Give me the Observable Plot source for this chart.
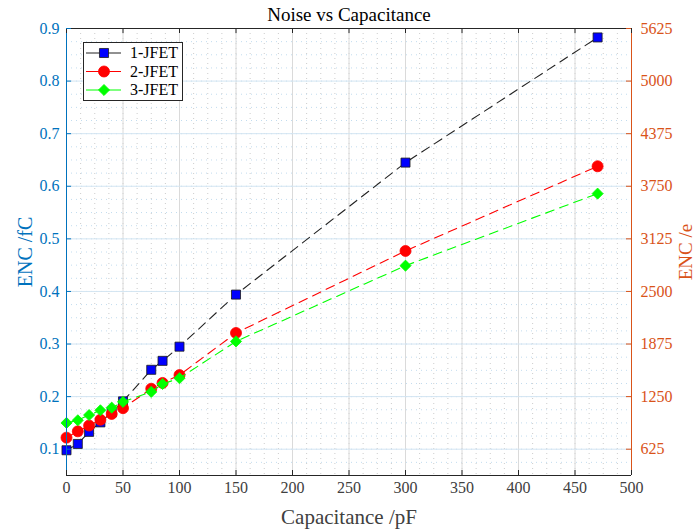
<!DOCTYPE html>
<html><head><meta charset="utf-8">
<script src="https://cdn.jsdelivr.net/npm/d3@7"></script>
<script src="https://cdn.jsdelivr.net/npm/@observablehq/plot@0.6"></script>
<style>
body{margin:0;background:#fff;}
#wrap{position:relative;width:697px;height:532px;font-family:"Liberation Serif","Times New Roman",serif;}
#legend{position:absolute;left:83px;top:42px;}
</style></head><body><div id="wrap"><div id="chart"></div><div id="legend"></div></div>
<script>
// ---- data ----
const capacitance = [0, 10, 20, 30, 40, 50, 75, 85, 100, 150, 300, 470];
const jfet1 = [0.098, 0.110, 0.133, 0.151, 0.170, 0.191, 0.251, 0.268, 0.295, 0.394, 0.645, 0.883];
const jfet2 = [0.122, 0.134, 0.145, 0.156, 0.167, 0.178, 0.215, 0.226, 0.241, 0.321, 0.477, 0.638];
const jfet3 = [0.150, 0.155, 0.165, 0.174, 0.179, 0.190, 0.209, 0.224, 0.235, 0.305, 0.449, 0.586];
const seriesNames = ["1-JFET", "2-JFET", "3-JFET"];
const xTicks = [0, 50, 100, 150, 200, 250, 300, 350, 400, 450, 500];
const yTicks = [0.1, 0.2, 0.3, 0.4, 0.5, 0.6, 0.7, 0.8, 0.9];
const leftTickLabels = ["0.1", "0.2", "0.3", "0.4", "0.5", "0.6", "0.7", "0.8", "0.9"];
const rightTickLabels = ["625", "1250", "1875", "2500", "3125", "3750", "4375", "5000", "5625"];
const xDomain = [0, 500];
const yDomain = [0.05, 0.9];
const titleText = "Noise vs Capacitance";
const xLabel = "Capacitance /pF";
const yLabelLeft = "ENC /fC";
const yLabelRight = "ENC /e";

// ---- styles ----
const W = 697, H = 532, mL = 66, mR = 66, mT = 28, mB = 57;
const fw = W - mL - mR, fh = H - mT - mB;
const cBlue = "#0072BD", cOrange = "#D95319", cAxis = "#262626";
const styles = [
  {line: "#222222", fill: "#0000ff", stroke: "#1a1a1a", symbol: "square", r: 5.1},
  {line: "#ff0000", fill: "#ff0000", stroke: "#ff0000", symbol: "circle", r: 5.5},
  {line: "#00ff00", fill: "#00ff00", stroke: "#00ff00", symbol: "diamond2", r: 5.0}
];
const allSeries = [jfet1, jfet2, jfet3];
const rows = allSeries.map(vals => capacitance.map((c, i) => ({x: c, y: vals[i]})));
const labelFor = (ticks, labels) => d => labels[ticks.findIndex(t => Math.abs(t - d) < 1e-9)];

const xMinor = d3.range(xDomain[0], xDomain[1] + 0.001, 12.5);
const yMinor = d3.range(0.05, 0.9001, 0.025);

const seriesMarks = [];
rows.forEach((r, i) => {
  const s = styles[i];
  seriesMarks.push(Plot.line(r, {x: "x", y: "y", stroke: s.line, strokeWidth: 1.1, strokeDasharray: "9,6"}));
  seriesMarks.push(Plot.dot(r, {x: "x", y: "y", symbol: () => s.symbol, r: s.r, fill: s.fill, stroke: s.stroke, strokeWidth: 0.8}));
});

const chart = Plot.plot({
  width: W, height: H,
  marginLeft: mL, marginRight: mR, marginTop: mT, marginBottom: mB,
  x: {domain: xDomain},
  y: {domain: yDomain},
  symbol: {type: "identity"},
  style: {fontFamily: '"Liberation Serif","Times New Roman",serif', background: "#fff", overflow: "visible"},
  marks: [
    Plot.ruleX(xMinor, {x: d => d, stroke: "#cccccc", strokeDasharray: "1,4"}),
    Plot.ruleY(yMinor, {y: d => d, stroke: "#c2dcef", strokeDasharray: "1,4"}),
    Plot.ruleX(xTicks, {x: d => d, stroke: "#dadada"}),
    Plot.ruleY(yTicks, {y: d => d, stroke: "#d3e5f2"}),
    ...seriesMarks,
    // box
    Plot.ruleY([yDomain[0]], {y: d => d, stroke: cAxis}),
    Plot.ruleY([yDomain[1]], {y: d => d, stroke: cAxis}),
    Plot.ruleX([xDomain[0]], {x: d => d, stroke: cBlue}),
    Plot.ruleX([xDomain[1]], {x: d => d, stroke: cOrange}),
    // inward ticks
    Plot.tickX(xTicks, {x: d => d, insetTop: fh - 5, stroke: cAxis}),
    Plot.tickX(xTicks, {x: d => d, insetBottom: fh - 5, stroke: cAxis}),
    Plot.tickY(yTicks, {y: d => d, insetRight: fw - 5, stroke: cBlue}),
    Plot.tickY(yTicks, {y: d => d, insetLeft: fw - 5, stroke: cOrange}),
    // tick labels
    Plot.axisX(xTicks, {anchor: "bottom", tickSize: 0, tickPadding: 6, fontSize: 16, color: "#404040", label: null}),
    Plot.axisY(yTicks, {anchor: "left", tickSize: 0, tickPadding: 7, fontSize: 16, color: cBlue, label: null,
      tickFormat: labelFor(yTicks, leftTickLabels)}),
    Plot.axisY(yTicks, {anchor: "right", tickSize: 0, tickPadding: 9, fontSize: 16, color: cOrange, label: null,
      tickFormat: labelFor(yTicks, rightTickLabels)}),
    // titles
    Plot.text([titleText], {text: d => d, frameAnchor: "top", lineAnchor: "middle", dy: -14, fontSize: 19, fill: "#000"}),
    Plot.text([xLabel], {text: d => d, frameAnchor: "bottom", lineAnchor: "middle", textAnchor: "middle", dy: 42, fontSize: 21, fill: "#404040"}),
    Plot.text([yLabelLeft], {text: d => d, frameAnchor: "left", lineAnchor: "middle", textAnchor: "middle", dx: -41, rotate: -90, fontSize: 20, fill: cBlue}),
    Plot.text([yLabelRight], {text: d => d, frameAnchor: "right", lineAnchor: "middle", textAnchor: "middle", dx: 54, rotate: -90, fontSize: 19, fill: cOrange})
  ]
});
document.getElementById("chart").appendChild(chart);

// ---- legend ----
const lw = 99, lh = 58;
const ys = [11, 29.5, 48];
let svg = `<svg width="${lw + 2}" height="${lh + 2}" xmlns="http://www.w3.org/2000/svg" style="font-family:'Liberation Serif','Times New Roman',serif">`;
svg += `<rect x="0.5" y="0.5" width="${lw}" height="${lh}" fill="#fff" stroke="#262626" stroke-width="1"/>`;
seriesNames.forEach((name, i) => {
  const s = styles[i], y = ys[i];
  svg += `<line x1="3" x2="38" y1="${y}" y2="${y}" stroke="${s.line}" stroke-width="1"/>`;
  const sym = d3.symbol(s.symbol === "square" ? d3.symbolSquare : s.symbol === "circle" ? d3.symbolCircle : d3.symbolDiamond2, Math.PI * s.r * s.r)();
  svg += `<path d="${sym}" transform="translate(21,${y})" fill="${s.fill}" stroke="${s.stroke}" stroke-width="0.8"/>`;
  svg += `<text x="47" y="${y + 5}" font-size="16" fill="#000">${name}</text>`;
});
svg += `</svg>`;
document.getElementById("legend").innerHTML = svg;
</script>
</body></html>
